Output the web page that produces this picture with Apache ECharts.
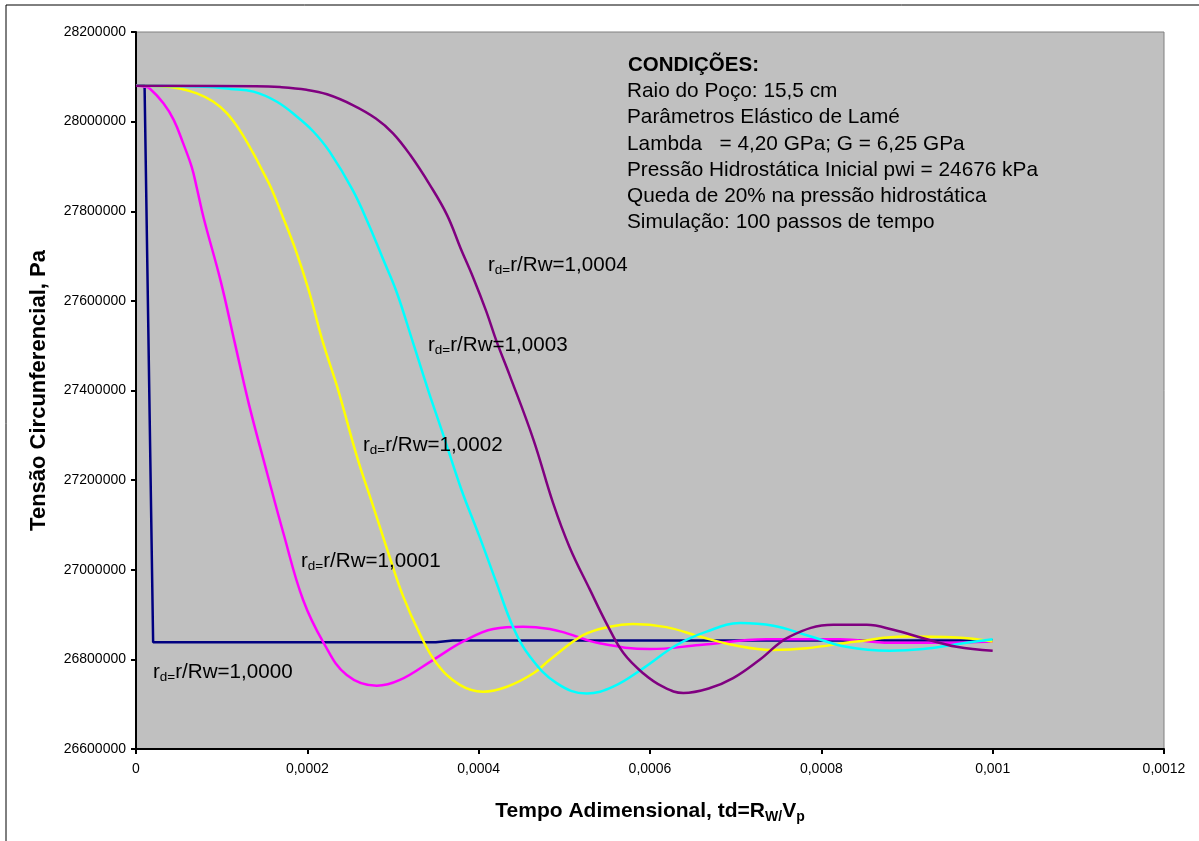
<!DOCTYPE html>
<html>
<head>
<meta charset="utf-8">
<script src="https://cdn.jsdelivr.net/npm/echarts@6/dist/echarts.min.js"></script>
<style>html,body{margin:0;padding:0;background:#fff;}#c{width:1199px;height:841px;}</style>
</head>
<body>
<div id="c"></div>
<script>
// ---- data (time td, circumferential stress Pa) ----
var seriesNames = ['r/Rw=1,0000', 'r/Rw=1,0001', 'r/Rw=1,0002', 'r/Rw=1,0003', 'r/Rw=1,0004'];
var rd10000 = [[0,28080000],[0.00001,28080000],[0.00002,26838000],[0.00035,26838000],[0.00037,26842000],[0.001,26842000]];
var rd10001 = [[0,28080000],[0.00001,28078000],[0.000016,28074000],[0.000032,28041000],[0.000044,28004000],[0.000055,27952000],[0.000065,27899000],[0.000071,27852000],[0.000079,27785000],[0.000099,27643000],[0.000115,27509000],[0.000132,27368000],[0.000153,27216000],[0.000172,27082000],[0.000195,26933000],[0.000219,26837000],[0.000246,26765000],[0.000281,26741000],[0.000308,26754000],[0.000347,26799000],[0.000382,26840000],[0.000417,26868000],[0.000452,26873000],[0.000483,26868000],[0.000503,26858000],[0.000541,26836000],[0.0006,26823000],[0.000658,26832000],[0.000736,26845000],[0.000822,26845000],[0.00088,26837000],[0.000938,26837000],[0.001,26840000]];
var rd10002 = [[0,28080000],[0.00003,28079000],[0.000051,28074000],[0.000071,28063000],[0.00009,28045000],[0.000106,28019000],[0.000121,27981000],[0.000137,27929000],[0.000149,27885000],[0.000158,27851000],[0.000169,27799000],[0.000187,27710000],[0.000202,27621000],[0.000218,27509000],[0.000236,27401000],[0.000258,27252000],[0.000277,27141000],[0.000296,27029000],[0.000312,26940000],[0.000331,26858000],[0.000351,26791000],[0.000378,26743000],[0.000405,26728000],[0.000433,26739000],[0.000464,26769000],[0.000483,26799000],[0.000522,26854000],[0.000553,26873000],[0.00058,26879000],[0.000619,26872000],[0.000658,26851000],[0.000697,26832000],[0.000743,26821000],[0.000783,26825000],[0.000841,26840000],[0.000899,26851000],[0.000958,26849000],[0.001,26840000]];
var rd10003 = [[0,28080000],[0.00006,28079000],[0.000086,28077000],[0.00011,28073000],[0.000137,28067000],[0.000164,28045000],[0.000188,28011000],[0.000207,27978000],[0.000226,27933000],[0.000253,27847000],[0.000272,27769000],[0.000288,27695000],[0.000304,27621000],[0.000323,27509000],[0.000341,27401000],[0.000358,27305000],[0.00038,27178000],[0.000401,27074000],[0.000421,26970000],[0.00044,26873000],[0.00046,26806000],[0.000491,26747000],[0.000526,26724000],[0.000557,26739000],[0.000592,26780000],[0.000631,26832000],[0.000666,26862000],[0.000705,26881000],[0.000744,26875000],[0.000783,26854000],[0.000829,26828000],[0.00088,26819000],[0.000919,26823000],[0.000958,26834000],[0.001,26845000]];
var rd10004 = [[0,28080000],[0.00014,28079000],[0.000168,28077000],[0.000199,28071000],[0.000223,28061000],[0.000253,28037000],[0.00028,28007000],[0.0003,27974000],[0.00032,27926000],[0.000343,27859000],[0.000363,27792000],[0.000379,27717000],[0.000394,27650000],[0.000409,27576000],[0.000421,27509000],[0.000436,27435000],[0.000464,27290000],[0.000487,27148000],[0.000506,27051000],[0.00053,26955000],[0.000549,26881000],[0.000569,26814000],[0.000592,26769000],[0.000615,26739000],[0.000639,26725000],[0.00067,26736000],[0.000697,26758000],[0.000728,26799000],[0.000763,26851000],[0.000814,26877000],[0.000853,26877000],[0.000884,26866000],[0.000919,26847000],[0.000958,26828000],[0.001,26819000]];
var seriesData = [rd10000, rd10001, rd10002, rd10003, rd10004];
var seriesColors = ['#000080', '#FF00FF', '#FFFF00', '#00FFFF', '#800080'];
var curveLabels = ['1,0000', '1,0001', '1,0002', '1,0003', '1,0004'];
var conditions = ['Raio do Poço: 15,5 cm', 'Parâmetros Elástico de Lamé', 'Lambda   = 4,20 GPa; G = 6,25 GPa', 'Pressão Hidrostática Inicial pwi = 24676 kPa', 'Queda de 20% na pressão hidrostática', 'Simulação: 100 passos de tempo'];
// ---- layout ----
var FONT = '"Liberation Sans", Arial, sans-serif';
var labelPos = [[153, 672], [301, 561], [363, 445], [428, 345], [488, 265]];

var chart = echarts.init(document.getElementById('c'), null, {renderer: 'canvas'});
var graphics = [{
  type: 'rect', z: 100, silent: true,
  shape: {x: 6, y: 5, width: 1300, height: 900},
  style: {fill: 'none', stroke: '#000', lineWidth: 1}
}, {
  type: 'text', z: 100, x: 628, y: 65,
  style: {text: 'CONDIÇÕES:', font: 'bold 20.5px ' + FONT, fill: '#000', verticalAlign: 'middle'}
}];
conditions.forEach(function (t, i) {
  graphics.push({type: 'text', z: 100, x: 627, y: 91.5 + i * 26.2,
    style: {text: t, font: '20.8px ' + FONT, fill: '#000', verticalAlign: 'middle'}});
});
curveLabels.forEach(function (t, i) {
  graphics.push({type: 'text', z: 100, x: labelPos[i][0], y: labelPos[i][1],
    style: {
      text: '{m|r}{s|d=}{m|r/Rw=' + t + '}', verticalAlign: 'middle',
      rich: {
        m: {font: '20.6px ' + FONT, fill: '#000', lineHeight: 24},
        s: {font: '13.5px ' + FONT, fill: '#000', verticalAlign: 'bottom', lineHeight: 24}
      }
    }});
});

chart.setOption({
  backgroundColor: '#fff',
  animation: false,
  grid: {left: 136, right: 35, top: 32, bottom: 92, show: true, backgroundColor: '#C0C0C0', borderColor: '#808080', borderWidth: 1},
  xAxis: {
    type: 'value', min: 0, max: 0.0012, interval: 0.0002,
    name: '{b|Tempo Adimensional, td=R}{s|W/}{b|V}{s|p}',
    nameLocation: 'middle', nameGap: 49,
    nameTextStyle: {rich: {
      b: {fontFamily: FONT, fontSize: 21, fontWeight: 'bold', color: '#000', lineHeight: 26},
      s: {fontFamily: FONT, fontSize: 14, fontWeight: 'bold', color: '#000', verticalAlign: 'bottom', lineHeight: 26}
    }},
    axisLine: {show: true, onZero: false, lineStyle: {color: '#000', width: 2}},
    axisTick: {show: true, inside: false, length: 5, lineStyle: {color: '#000', width: 2}},
    splitLine: {show: false},
    axisLabel: {margin: 13, color: '#000', fontFamily: FONT, fontSize: 14,
      formatter: function (v) { return v === 0 ? '0' : String(+v.toFixed(6)).replace('.', ','); }}
  },
  yAxis: {
    type: 'value', min: 26600000, max: 28200000, interval: 200000,
    name: 'Tensão Circunferencial, Pa', nameLocation: 'middle', nameGap: 86, nameRotate: 90,
    nameTextStyle: {fontFamily: FONT, fontSize: 22, fontWeight: 'bold', color: '#000'},
    axisLine: {show: true, onZero: false, lineStyle: {color: '#000', width: 2}},
    axisTick: {show: true, inside: false, length: 5, lineStyle: {color: '#000', width: 2}},
    splitLine: {show: false},
    axisLabel: {margin: 10, color: '#000', fontFamily: FONT, fontSize: 14,
      formatter: function (v) { return String(Math.round(v)); }}
  },
  series: seriesData.map(function (d, i) {
    return {
      name: seriesNames[i], type: 'line', data: d, showSymbol: false, symbol: 'none',
      smooth: i === 0 ? false : 0.4,
      lineStyle: {color: seriesColors[i], width: 2.5},
      z: 2 + i
    };
  }),
  graphic: graphics
});
</script>
</body>
</html>
